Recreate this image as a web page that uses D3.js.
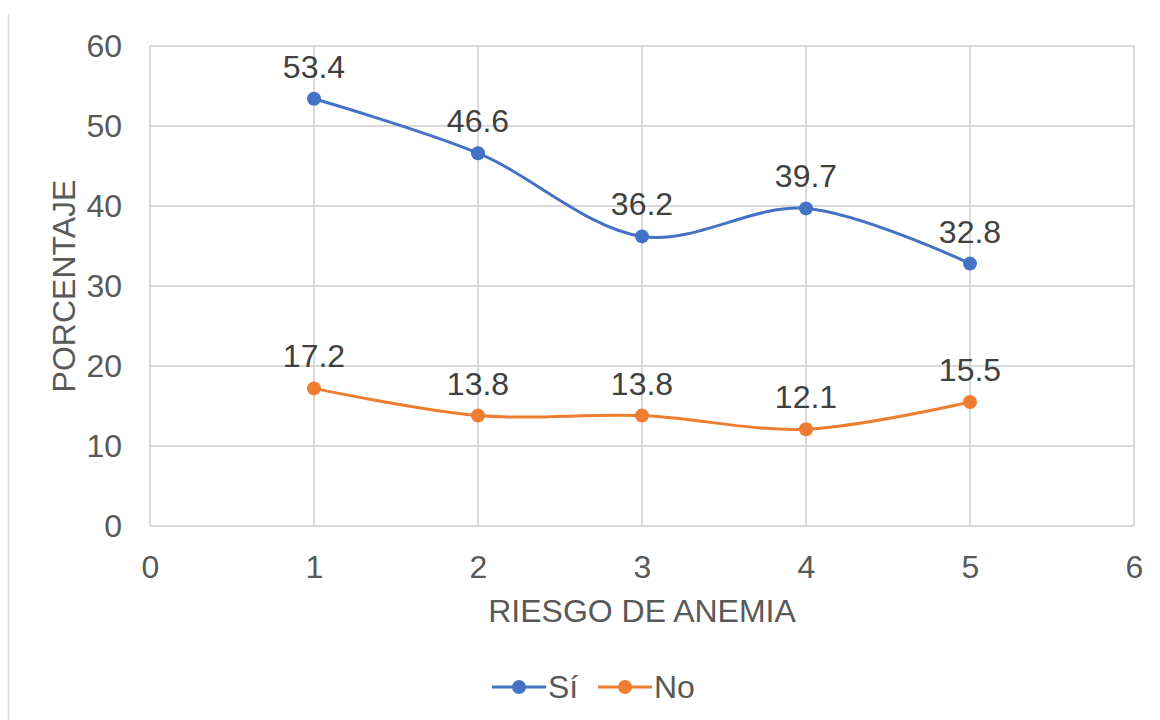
<!DOCTYPE html>
<html>
<head>
<meta charset="utf-8">
<script src="https://cdn.jsdelivr.net/npm/d3@7"></script>
<style>
  body { margin: 0; background: #fff; }
  text { font-family: "Liberation Sans", Arial, sans-serif; }
</style>
</head>
<body>
<div class="chart"></div>
<script>
// data
const xValues = [1, 2, 3, 4, 5];
const siValues = [53.4, 46.6, 36.2, 39.7, 32.8];
const noValues = [17.2, 13.8, 13.8, 12.1, 15.5];
const xTicks = [0, 1, 2, 3, 4, 5, 6];
const yTicks = [0, 10, 20, 30, 40, 50, 60];
const seriesNames = ["Sí", "No"];
const seriesColors = ["#4472c4", "#ed7d31"];

const W = 1160, H = 720;
const FS = "32px";
let margin = {top: 46, right: 26, bottom: 194, left: 150};
const width = W - margin.left - margin.right;
const height = H - margin.top - margin.bottom;

const root = d3.select(".chart")
    .append("svg")
    .attr("width", W)
    .attr("height", H);

// left border line of the chart frame
root.append("line")
    .attr("x1", 8.5).attr("x2", 8.5)
    .attr("y1", 14).attr("y2", H)
    .attr("stroke", "#d9d9d9").attr("stroke-width", 1.5);

const svg = root.append("g")
    .attr("transform", "translate(" + margin.left + "," + margin.top + ")");

let xScale = d3.scaleLinear().domain([0, 6]).range([0, width]);
let yScale = d3.scaleLinear().domain([0, 60]).range([height, 0]);

// gridlines
svg.append("g").selectAll("line")
    .data(yTicks)
    .join("line")
    .attr("x1", 0).attr("x2", width)
    .attr("y1", d => yScale(d)).attr("y2", d => yScale(d))
    .attr("stroke", "#d9d9d9").attr("stroke-width", 2);

svg.append("g").selectAll("line")
    .data(xTicks)
    .join("line")
    .attr("y1", 0).attr("y2", height)
    .attr("x1", d => xScale(d)).attr("x2", d => xScale(d))
    .attr("stroke", "#d9d9d9").attr("stroke-width", 2);

// axes (labels only)
let xAxis = d3.axisBottom(xScale).tickValues(xTicks).tickFormat(d3.format("d")).tickSize(0).tickPadding(28);
let yAxis = d3.axisLeft(yScale).tickValues(yTicks).tickFormat(d3.format("d")).tickSize(0).tickPadding(28);

const gx = svg.append("g").attr("transform", "translate(0," + height + ")").call(xAxis);
const gy = svg.append("g").call(yAxis);
[gx, gy].forEach(g => {
    g.select(".domain").remove();
    g.selectAll("text")
        .attr("fill", "#595959")
        .style("font-size", FS)
        .style("font-family", "'Liberation Sans', Arial, sans-serif");
});
gx.selectAll("text").attr("dy", "0.71em").attr("y", 29);

// axis titles
svg.append("text")
    .attr("x", width / 2).attr("y", height + 96)
    .attr("text-anchor", "middle")
    .attr("fill", "#595959").style("font-size", FS)
    .text("RIESGO DE ANEMIA");

svg.append("text")
    .attr("transform", "translate(" + (-75) + "," + (height / 2) + ") rotate(-90)")
    .attr("text-anchor", "middle")
    .attr("fill", "#595959").style("font-size", FS)
    .text("PORCENTAJE");

// series
const series = [siValues, noValues];
const line = d3.line()
    .x((d, i) => xScale(xValues[i]))
    .y(d => yScale(d))
    .curve(d3.curveCatmullRom.alpha(0.5));

series.forEach((vals, s) => {
    svg.append("path")
        .datum(vals)
        .attr("d", line)
        .attr("fill", "none")
        .attr("stroke", seriesColors[s])
        .attr("stroke-width", 3);

    svg.append("g").selectAll("circle")
        .data(vals)
        .join("circle")
        .attr("cx", (d, i) => xScale(xValues[i]))
        .attr("cy", d => yScale(d))
        .attr("r", 7)
        .attr("fill", seriesColors[s]);

    svg.append("g").selectAll("text")
        .data(vals)
        .join("text")
        .attr("x", (d, i) => xScale(xValues[i]))
        .attr("y", d => yScale(d) - 21)
        .attr("text-anchor", "middle")
        .attr("fill", "#404040")
        .style("font-size", FS)
        .text(d => d.toFixed(1));
});

// legend
const legend = root.append("g").attr("transform", "translate(492,687)");
const legendX = [0, 106];
seriesNames.forEach((name, s) => {
    const g = legend.append("g").attr("transform", "translate(" + legendX[s] + ",0)");
    g.append("line").attr("x1", 0).attr("x2", 54).attr("y1", 0).attr("y2", 0)
        .attr("stroke", seriesColors[s]).attr("stroke-width", 3);
    g.append("circle").attr("cx", 27).attr("cy", 0).attr("r", 7).attr("fill", seriesColors[s]);
    g.append("text").attr("x", 56).attr("y", 0).attr("dy", "0.35em")
        .attr("fill", "#595959").style("font-size", FS).text(name);
});
</script>
</body>
</html>
